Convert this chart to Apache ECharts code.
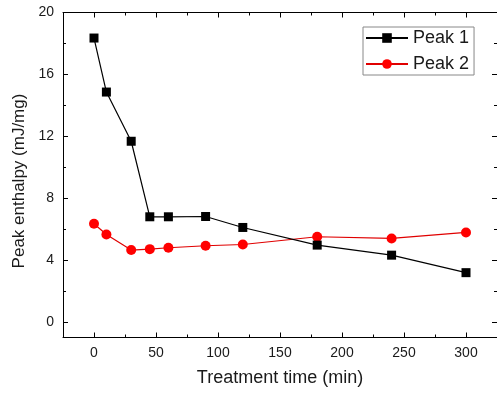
<!DOCTYPE html>
<html>
<head>
<meta charset="utf-8">
<script src="https://cdn.jsdelivr.net/npm/echarts@6/dist/echarts.min.js"></script>
<style>
  html, body { margin: 0; padding: 0; background: #fff; }
  #chart { width: 497px; height: 396px; }
</style>
</head>
<body>
<div id="chart"></div>
<script>
// Treatment times (min) at which each peak was measured
const times = [0, 10, 30, 45, 60, 90, 120, 180, 240, 300];
// Peak enthalpy values (mJ/mg)
const peak1 = [18.35, 14.86, 11.68, 6.8, 6.8, 6.82, 6.11, 4.97, 4.32, 3.19];
const peak2 = [6.35, 5.66, 4.65, 4.71, 4.8, 4.93, 5.01, 5.51, 5.4, 5.79];
const seriesNames = ['Peak 1', 'Peak 2'];

// Tick positions
const xMajor = [0, 50, 100, 150, 200, 250, 300];
const xMinor = [25, 75, 125, 175, 225, 275];
const yMajor = [0, 4, 8, 12, 16, 20];
const yMinor = [2, 6, 10, 14, 18];

const X_RANGE = [-25, 325];
const Y_RANGE = [-1, 20];

const FONT = '"Liberation Sans", Arial, sans-serif';
const INK = '#1a1a1a';

const chart = echarts.init(document.getElementById('chart'), null, { renderer: 'canvas' });

// Axis that only draws its line (and optionally labels)
function frameAxis(pos, range, labels, extra) {
  return Object.assign({
    type: 'value', position: pos, min: range[0], max: range[1],
    splitLine: { show: false },
    axisLine: { show: true, onZero: false, lineStyle: { color: '#000', width: 1 } },
    axisTick: { show: false },
    axisLabel: labels
      ? { show: true, customValues: labels, fontFamily: FONT, fontSize: 14, color: INK, margin: 9 }
      : { show: false }
  }, extra || {});
}

// Axis that only draws inward ticks at the given values
function tickAxis(pos, range, ticks, len) {
  return {
    type: 'value', position: pos, min: range[0], max: range[1],
    splitLine: { show: false },
    axisLine: { show: false, onZero: false },
    axisLabel: { show: false },
    axisTick: { show: true, inside: true, length: len, customValues: ticks, lineStyle: { color: '#000', width: 1 } }
  };
}

const option = {
  animation: false,
  backgroundColor: '#fff',
  grid: { left: 63, top: 12.5, right: -4, bottom: 58.5, containLabel: false },
  legend: {
    orient: 'vertical',
    left: 363,
    top: 27,
    data: seriesNames,
    itemWidth: 42,
    itemHeight: 12,
    itemGap: 8,
    padding: [2, 5, 2, 2],
    borderColor: '#888',
    borderWidth: 1,
    textStyle: { fontFamily: FONT, fontSize: 18, color: INK }
  },
  xAxis: [
    frameAxis('bottom', X_RANGE, xMajor, {
      name: 'Treatment time (min)',
      nameLocation: 'middle',
      nameGap: 32,
      nameTextStyle: { fontFamily: FONT, fontSize: 18, color: INK, verticalAlign: 'top' }
    }),
    frameAxis('top', X_RANGE, null),
    tickAxis('bottom', X_RANGE, xMajor, 5),
    tickAxis('bottom', X_RANGE, xMinor, 3),
    tickAxis('top', X_RANGE, xMajor, 5),
    tickAxis('top', X_RANGE, xMinor, 3)
  ],
  yAxis: [
    frameAxis('left', Y_RANGE, yMajor, {
      name: 'Peak enthalpy (mJ/mg)',
      nameLocation: 'middle',
      nameGap: 35,
      nameTextStyle: { fontFamily: FONT, fontSize: 17, color: INK, padding: [0, 12, 0, 0] }
    }),
    frameAxis('right', Y_RANGE, null),
    tickAxis('left', Y_RANGE, yMajor, 5),
    tickAxis('left', Y_RANGE, yMinor, 3),
    tickAxis('right', Y_RANGE, yMajor, 5),
    tickAxis('right', Y_RANGE, yMinor, 3)
  ],
  series: [
    {
      name: seriesNames[0],
      type: 'line',
      xAxisIndex: 0, yAxisIndex: 0,
      data: times.map((t, i) => [t, peak1[i]]),
      symbol: 'rect',
      symbolSize: 9,
      lineStyle: { color: '#000', width: 1.2 },
      itemStyle: { color: '#000' },
      z: 3
    },
    {
      name: seriesNames[1],
      type: 'line',
      xAxisIndex: 0, yAxisIndex: 0,
      data: times.map((t, i) => [t, peak2[i]]),
      symbol: 'circle',
      symbolSize: 10,
      lineStyle: { color: '#e00000', width: 1.2 },
      itemStyle: { color: '#ff0000' },
      z: 2
    }
  ]
};

chart.setOption(option);
</script>
</body>
</html>
